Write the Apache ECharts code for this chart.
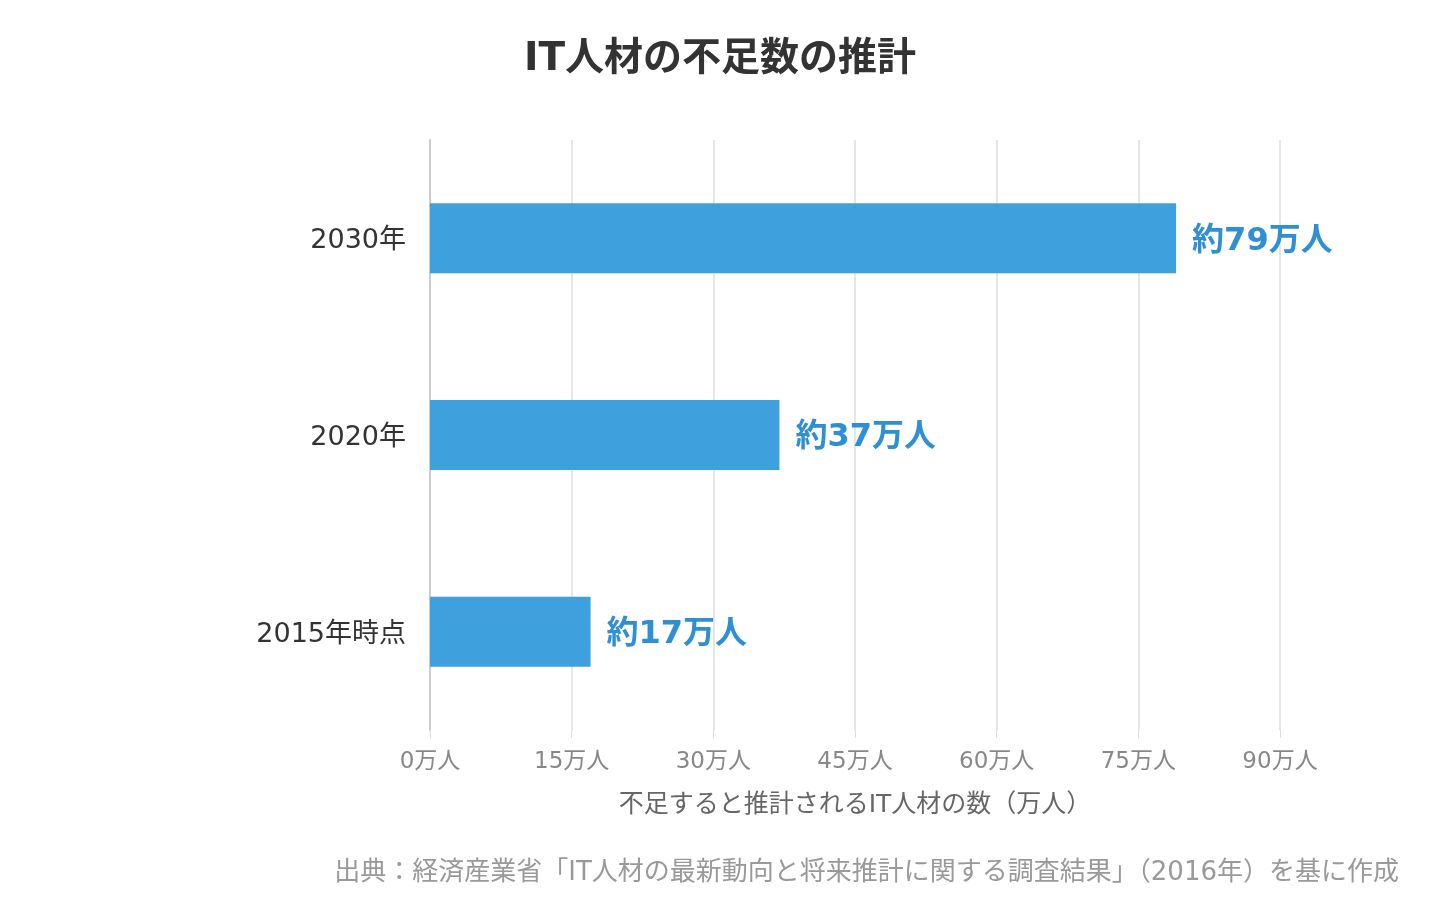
<!DOCTYPE html>
<html>
<head>
<meta charset="utf-8" />
<title>IT人材の不足数の推計</title>
<style>
html,body{margin:0;padding:0;width:100%;height:100%;background:#fff;}
#chart{width:1440px;height:920px;}
</style>
</head>
<body>
<div id="chart"></div>
<script src="https://cdn.jsdelivr.net/npm/echarts@6/dist/echarts.min.js"></script>
<script>
var categories = ['2015年時点', '2020年', '2030年'];
var values = [17, 37, 79];
var barLabels = ['約17万人', '約37万人', '約79万人'];
var xTicks = [0, 15, 30, 45, 60, 75, 90];

// latin glyphs from DejaVu (wider digits), japanese falls back to Noto CJK
var font = '"DejaVu Sans", "Noto Sans CJK JP", sans-serif';
var myChart = echarts.init(document.getElementById('chart'));
var option = {
	animation: false,
	textStyle: { fontFamily: font },
	title: [{
		text: 'IT人材の不足数の推計',
		left: 'center',
		top: 35,
		textStyle: { fontSize: 39, fontWeight: 'bold', color: '#333', fontFamily: font }
	}, {
		text: '出典：経済産業省「IT人材の最新動向と将来推計に関する調査結果」（2016年）を基に作成',
		right: 36,
		top: 855,
		textStyle: { fontSize: 26, fontWeight: 'normal', color: '#999', fontFamily: font }
	}],
	grid: { left: 430, right: 160, top: 140, bottom: 190, containLabel: false },
	xAxis: {
		type: 'value',
		min: xTicks[0],
		max: xTicks[xTicks.length - 1],
		interval: 15,
		name: '不足すると推計されるIT人材の数（万人）',
		nameLocation: 'middle',
		nameGap: 63,
		nameTextStyle: { fontSize: 25, color: '#666' },
		axisLine: { show: false },
		axisTick: { show: true, length: 8, lineStyle: { color: '#ddd' } },
		axisLabel: { fontSize: 23, color: '#888', margin: 21, formatter: '{value}万人' },
		splitLine: { show: true, lineStyle: { color: '#e6e6e6', width: 2 } }
	},
	yAxis: {
		type: 'category',
		data: categories,
		axisLine: { show: true, lineStyle: { color: '#ccc', width: 2 } },
		axisTick: { show: false },
		axisLabel: {
			margin: 24,
			formatter: '{a|{value}}',
			rich: { a: { fontSize: 27, color: '#333', fontFamily: font, padding: [6, 0, 0, 0] } }
		}
	},
	series: [{
		type: 'bar',
		data: values,
		barWidth: 70,
		itemStyle: { color: '#3fa0de' },
		label: {
			show: true,
			position: 'right',
			distance: 16,
			offset: [0, 3],
			fontSize: 32,
			fontWeight: 'bold',
			color: '#2e8fd5',
			formatter: function(p) { return barLabels[p.dataIndex]; }
		}
	}]
};
myChart.setOption(option);
</script>
</body>
</html>
